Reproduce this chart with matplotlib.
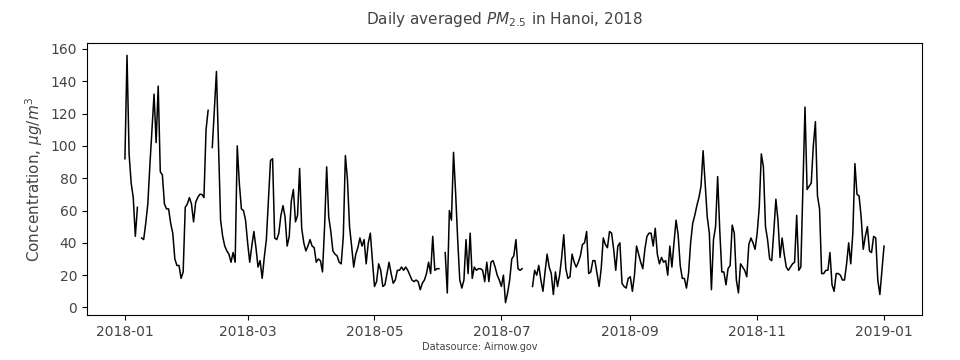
import numpy as np
import pandas as pd
import matplotlib
matplotlib.use('Agg')
import matplotlib.pyplot as plt

plt.rcParams.update({'font.family': 'DejaVu Sans', 'text.color': '#444444',
                     'axes.labelcolor': '#444444', 'xtick.labelcolor': '#444444',
                     'ytick.labelcolor': '#444444'})

nan = np.nan

# daily PM2.5 averages, one list per month
jan = [92, 156, 95, 77, 68, 44, 62, nan, 43, 42, 52, 64, 88, 110, 132, 102, 137, 84, 82, 64,
       61, 61, 52, 46, 30, 26, 26, 18, 22, 62, 64]
feb = [68, 64, 53, 65, 68, 70, 70, 68, 110, 122, nan, 99, 122, 146, 100, 54, 44, 38, 35, 33,
       28, 34, 28, 100, 77, 61, 60, 54]
mar = [40, 28, 38, 47, 37, 25, 29, 18, 31, 42, 66, 91, 92, 43, 42, 46, 57, 63, 56, 38,
       44, 66, 73, 53, 57, 86, 49, 40, 35, 38, 42]
apr = [38, 37, 28, 30, 29, 22, 50, 87, 56, 47, 35, 33, 32, 28, 27, 44, 94, 79, 50, 38,
       25, 33, 37, 43, 38, 42, 27, 40, 46, 29]
may = [13, 16, 27, 23, 13, 14, 21, 28, 21, 15, 17, 23, 23, 25, 23, 25, 23, 20, 17, 16,
       17, 16, 11, 15, 17, 21, 28, 21, 44, 23, 24]
jun = [24, nan, nan, 34, 9, 60, 54, 96, 71, 42, 17, 12, 17, 42, 21, 46, 18, 25, 23, 24,
       24, 23, 16, 28, 16, 28, 29, 25, 20, 17]
jul = [13, 20, 3, 9, 17, 30, 32, 42, 24, 23, 24, nan, nan, nan, nan, 13, 23, 20, 26, 17,
       10, 22, 33, 25, 21, 8, 22, 13, 20, 31, 45]
aug = [24, 18, 19, 33, 28, 25, 28, 32, 39, 40, 47, 21, 22, 29, 29, 21, 13, 24, 43, 39,
       37, 47, 46, 36, 23, 38, 40, 15, 13, 12, 18]
sep = [19, 10, 20, 38, 33, 28, 24, 36, 44, 46, 46, 38, 49, 33, 27, 31, 28, 29, 20, 38,
       25, 40, 54, 45, 26, 18, 18, 12, 21, 40]
oct_ = [52, 57, 63, 68, 75, 97, 77, 56, 46, 11, 42, 50, 81, 48, 22, 22, 14, 24, 26, 51,
        46, 17, 9, 27, 25, 23, 19, 39, 43, 40, 36]
nov = [46, 62, 95, 87, 50, 42, 30, 29, 47, 67, 54, 31, 43, 33, 25, 23, 25, 27, 28, 57,
       23, 25, 74, 124, 73, 75, 77, 100, 115, 69]
dec = [61, 21, 21, 23, 23, 34, 14, 10, 21, 21, 20, 17, 17, 27, 40, 27, 46, 89, 70, 69,
       56, 36, 44, 50, 35, 34, 44, 43, 17, 8, 23]
jan_2019 = [38]

values = jan + feb + mar + apr + may + jun + jul + aug + sep + oct_ + nov + dec + jan_2019
dates = pd.date_range('2018-01-01', periods=len(values), freq='D')
pm25 = pd.Series(values, index=dates)

fig = plt.figure(figsize=(9.6, 3.6), dpi=100)
ax = fig.add_axes([0.0906, 0.125, 0.8698, 0.7556])
ax.plot(pm25.index, pm25.values, color='black', lw=1.1)

ax.set_title('Daily averaged $PM_{2.5}$ in Hanoi, 2018', fontsize=11, pad=14)
ax.set_ylabel('Concentration, $\\mu g/m^3$', fontsize=11)
ax.tick_params(labelsize=10)
fig.text(0.5, 0.027, 'Datasource: Airnow.gov', ha='center', fontsize=7)

fig.savefig('out.png', dpi=100)
